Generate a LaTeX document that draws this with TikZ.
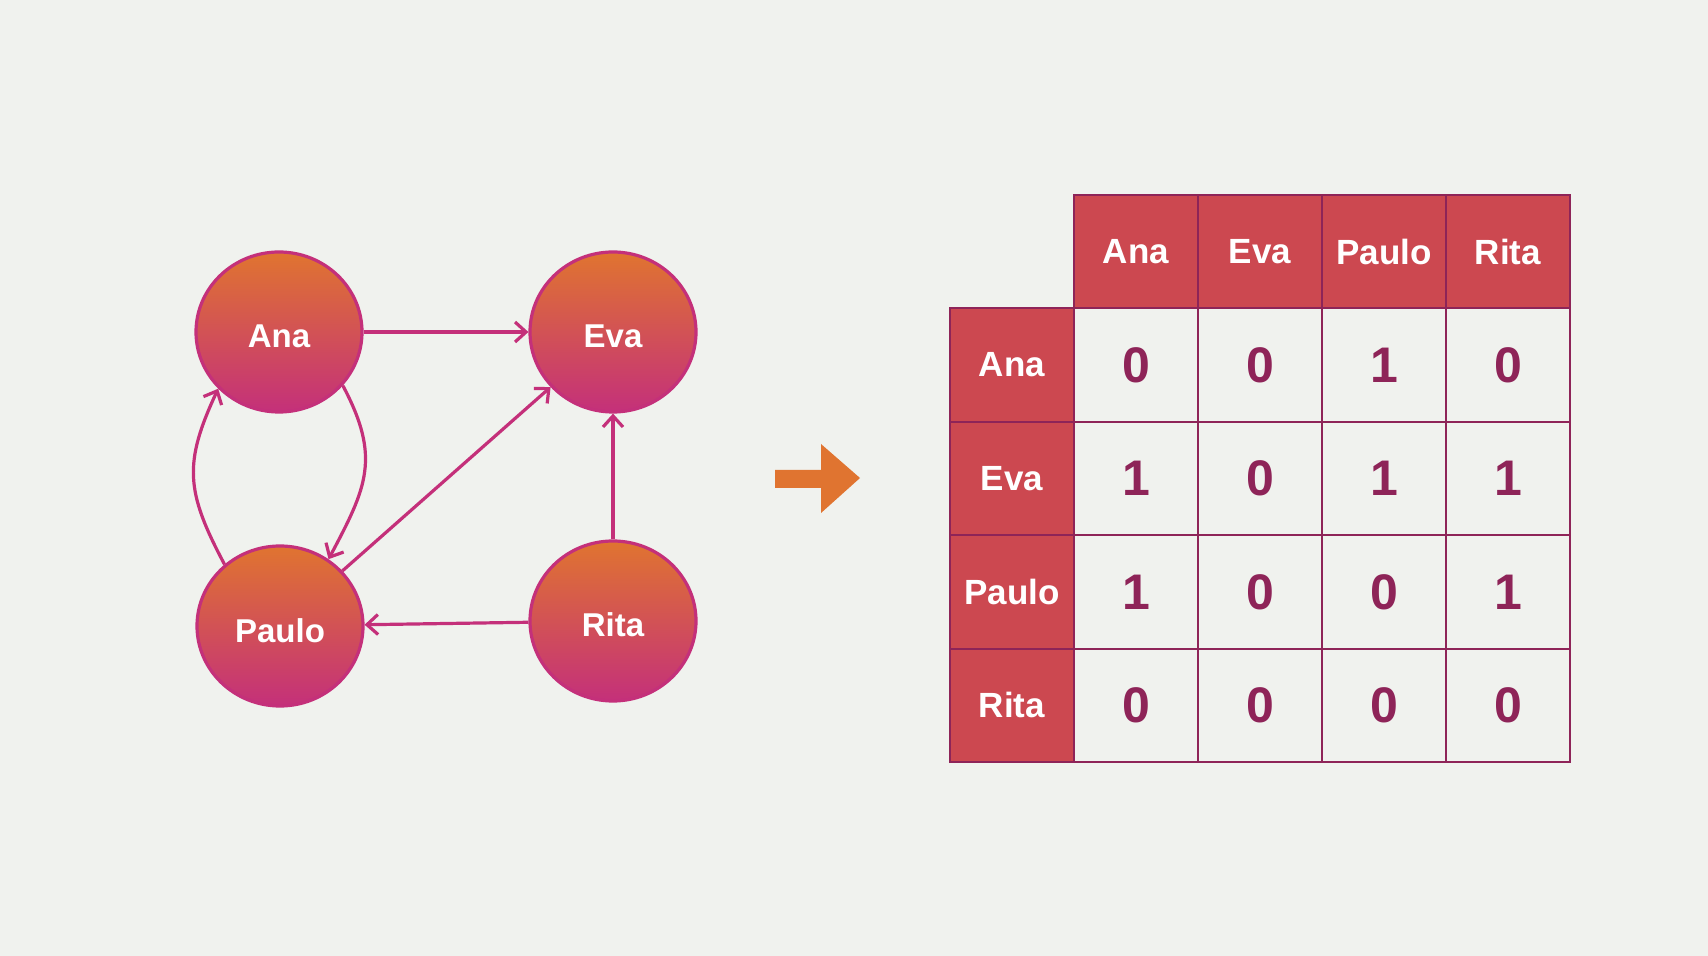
\documentclass[tikz,border=0pt]{standalone}
\usepackage{fontspec}
\setmainfont{Liberation Sans}
\usetikzlibrary{arrows.meta,shapes.geometric}
\definecolor{bg}{HTML}{F0F2EE}
\definecolor{plum}{HTML}{8E2458}
\definecolor{rose}{HTML}{CC4850}
\definecolor{edgepink}{HTML}{C4307A}
\definecolor{tangerine}{HTML}{E07430}
\tikzset{>={Straight Barb[length=5.5pt,width=10pt]}}
\tikzset{
  person/.style = {ellipse, minimum width=83pt, minimum height=80pt, inner sep=0pt,
    draw=edgepink, line width=1.6pt, top color=tangerine, bottom color=edgepink,
    text=white, font=\bfseries\fontsize{16.5}{18}\selectfont,
    text height=16pt, text depth=0pt},
  link/.style = {->, draw=edgepink, line width=1.6pt},
  cell/.style = {rectangle, draw=plum, line width=1pt, minimum width=62pt,
    minimum height=56.7pt, inner sep=0pt, outer sep=0pt},
  head/.style = {cell, fill=rose, text=white, font=\bfseries\fontsize{17.5}{20}\selectfont},
  entry/.style = {cell, fill=bg, text=plum, font=\bfseries\fontsize{25}{28}\selectfont}
}

\begin{document}
\begin{tikzpicture}[x=0.5pt,y=-0.5pt]
    \fill[bg] (0,0) rectangle (1708,956);
    \useasboundingbox (0,0) rectangle (1708,956);
    % graph
    \node[person] (ana) at (279,332) {Ana};
    \node[person] (eva) at (613,332) {Eva};
    \node[person] (paulo) at (280,626) {Paulo};
    \node[person] (rita) at (613,621) {Rita};
    \draw[link] (ana) -- (eva);
    \draw[link] (ana.-40) to[out=-62,in=62,looseness=1.2] (paulo.54);
    \draw[link] (paulo.132) to[out=118,in=-115,looseness=1.2] (ana.-137);
    \draw[link] (paulo) -- (eva);
    \draw[link] (rita) -- (eva);
    \draw[link] (rita) -- (paulo);
    % big arrow
    \fill[tangerine] (775,470) -- (821,470) -- (821,444) -- (860,478)
        -- (821,513) -- (821,488) -- (775,488) -- cycle;
    % matrix
    \foreach \row [count=\r] in {{0,0,1,0},{1,0,1,1},{1,0,0,1},{0,0,0,0}}
        \foreach \val [count=\c] in \row
            \node[entry] (cell-\r-\c) at (1012+124*\c,251.7+113.4*\r) {\val};
    \foreach \name [count=\i] in {Ana,Eva,Paulo,Rita} {
        \node[head] (col-\i) at (1012+124*\i,251.7) {\name};
        \node[head] (row-\i) at (1012,251.7+113.4*\i) {\name};
    }
\end{tikzpicture}
\end{document}
